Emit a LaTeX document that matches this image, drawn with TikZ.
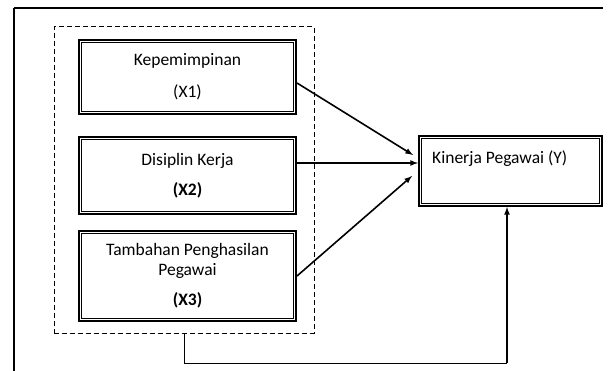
\documentclass[tikz,border=0pt]{standalone}
\usepackage{fontspec}
\setmainfont{Carlito}
\usepackage{tikz}
\usetikzlibrary{arrows}
\usetikzlibrary{calc}

\tikzset{
  varbox/.style={draw, line width=2pt, align=center, inner sep=0pt,
    font=\fontsize{17.5}{20}\selectfont},
  innerline/.style={line width=0.8pt},
  link/.style={line width=1.6pt, -latex}
}

\begin{document}
\begin{tikzpicture}[x=1pt,y=-1pt]
\useasboundingbox (0,0) rectangle (610,371);
% frame
\draw[line width=1.2pt] (14,371) -- (14,8);
\draw[line width=2pt] (14,8) -- (603,8);
% group of independent variables
\node[draw, dash pattern=on 5pt off 3pt, line width=1pt, minimum width=260pt, minimum height=306pt] (grp) at (184,180) {};
\node[varbox, minimum width=217pt, minimum height=74pt] (kep) at (187.5,77) {Kepemimpinan\\[12pt](X1)};
\node[varbox, minimum width=217pt, minimum height=77pt] (dis) at (187.5,175.5) {Disiplin Kerja\\[10pt]\textbf{(X2)}};
\node[varbox, minimum width=217pt, minimum height=90pt] (tpp) at (187.5,276) {Tambahan Penghasilan\\Pegawai\\[10pt]\textbf{(X3)}};
% dependent variable
\node[varbox, minimum width=183pt, minimum height=70pt] (kin) at (510.5,171) {};
\node[anchor=west, font=\fontsize{17.5}{20}\selectfont, inner sep=0pt] (kinlab) at (432,159) {Kinerja Pegawai (Y)};
% inner lines of the double borders
\foreach \n in {kep,dis,tpp,kin}
  \draw[innerline] ($(\n.south west)+(3.4,-3.4)$) rectangle ($(\n.north east)+(-3.4,3.4)$);
% arrows
\coordinate (a1) at (413,155);
\coordinate (a3) at (412,176);
\draw[link] (kep.east |- 0,83) -- (a1);
\draw[link] (dis.east |- 0,163) -- (kin.west |- 0,163);
\draw[link] (tpp.east |- 0,276) -- (a3);
\coordinate (fbk) at (507,363);
\draw[line width=0.9pt] (grp.south) |- (fbk);
\draw[link] (fbk) -- (fbk |- kin.south);
\end{tikzpicture}
\end{document}
